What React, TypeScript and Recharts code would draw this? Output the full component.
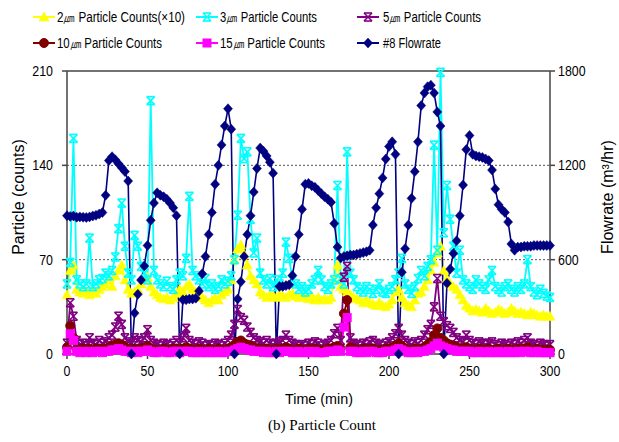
import React from 'react';
import { ComposedChart, Line, XAxis, YAxis, ReferenceLine } from 'recharts';

// sampling interval of the logged data (minutes)
const SAMPLE_INTERVAL_MIN = 2;

// #8 Flowrate (m3/hr), every 2 min from 0 to 300
const flowrate = [
  880, 875, 878, 870, 872, 870, 868, 872, 878, 882,
  890, 900, 1010, 1230, 1255, 1235, 1210, 1185, 1160, 1100,
  0, 260, 380, 470, 560, 690, 850, 960, 1025, 1010,
  1000, 985, 960, 930, 880, 0, 345, 345, 350, 350,
  355, 400, 510, 620, 760, 900, 1080, 1200, 1330, 1450,
  1560, 1430, 0, 350, 460, 620, 760, 880, 1030, 1180,
  1310, 1290, 1260, 1220, 1150, 0, 430, 430, 435, 440,
  500, 620, 760, 920, 1080, 1085, 1070, 1060, 1040, 1020,
  1000, 985, 965, 830, 680, 610, 620, 625, 630, 630,
  635, 640, 645, 650, 660, 820, 930, 1020, 1120, 1240,
  1320, 1350, 1270, 0, 520, 670, 820, 990, 1160, 1350,
  1580, 1660, 1700, 1710, 1660, 1540, 1450, 0, 450, 540,
  640, 720, 880, 1075, 1300, 1390, 1270, 1260, 1255, 1250,
  1240, 1230, 1170, 1050, 950, 920, 900, 840, 700, 660,
  680, 680, 685, 685, 685, 690, 690, 690, 690, 690,
  690,
];

// 2um particle counts (x10)
const p2um = [
  44, 62, 66, 48, 46, 45, 47, 44, 46, 45,
  48, 50, 52, 55, 50, 58, 62, 66, 55, 48,
  45, 46, 48, 52, 55, 57, 50, 46, 44, 42,
  41, 42, 40, 42, 45, 48, 46, 50, 52, 48,
  46, 44, 42, 40, 38, 40, 42, 40, 44, 46,
  48, 55, 70, 78, 81, 74, 66, 58, 55, 52,
  46, 44, 42, 44, 43, 42, 44, 43, 42, 44,
  45, 43, 42, 44, 42, 41, 43, 40, 42, 40,
  41, 40, 42, 55, 66, 50, 48, 46, 44, 42,
  41, 40, 38, 40, 38, 37, 36, 38, 36, 35,
  37, 40, 46, 48, 42, 38, 36, 35, 40, 45,
  46, 50, 55, 62, 68, 75, 80, 62, 56, 52,
  50, 48, 44, 40, 36, 34, 32, 33, 32, 31,
  34, 32, 30, 31, 33, 32, 30, 31, 34, 32,
  30, 31, 30, 29, 31, 30, 29, 28, 29, 28,
  28,
];

// 3um particle counts
const p3um = [
  52, 68, 160, 55, 52, 50, 52, 86, 50, 52,
  55, 56, 60, 58, 62, 72, 93, 112, 80, 60,
  55, 88, 80, 65, 60, 55, 188, 62, 55, 52,
  50, 54, 50, 48, 55, 60, 58, 71, 117, 62,
  58, 55, 52, 56, 50, 52, 48, 50, 55, 52,
  54, 58, 70, 103, 160, 145, 150, 100, 75, 86,
  60, 55, 52, 56, 50, 55, 52, 60, 83, 71,
  55, 52, 48, 50, 46, 48, 52, 55, 62, 55,
  50, 48, 52, 55, 125, 56, 52, 150, 60, 55,
  50, 48, 46, 50, 48, 45, 48, 52, 46, 45,
  48, 50, 55, 60, 71, 52, 48, 45, 50, 56,
  62, 58, 65, 70, 155, 77, 209, 90, 125, 100,
  80, 60, 77, 55, 52, 50, 48, 55, 52, 50,
  48, 55, 62, 50, 48, 46, 50, 52, 48, 46,
  50, 48, 52, 70, 50, 46, 44, 48, 45, 43,
  42,
];

// 5um particle counts
const p5um = [
  8, 38, 28, 10, 7, 8, 6, 12, 8, 7,
  10, 8, 9, 12, 14, 20, 28, 22, 12, 9,
  8, 12, 10, 9, 12, 18, 10, 8, 7, 6,
  8, 7, 6, 8, 10, 8, 12, 19, 10, 8,
  7, 9, 8, 6, 7, 6, 8, 7, 6, 8,
  10, 14, 22, 33, 27, 25, 20, 16, 12, 10,
  9, 8, 10, 8, 7, 8, 9, 10, 14, 10,
  8, 7, 6, 7, 6, 8, 7, 9, 8, 6,
  7, 8, 10, 15, 19, 10, 57, 65, 12, 8,
  7, 6, 8, 7, 9, 10, 8, 7, 6, 8,
  9, 12, 15, 19, 14, 10, 8, 7, 9, 8,
  10, 14, 18, 22, 35, 56, 28, 24, 21, 19,
  16, 12, 10, 9, 14, 10, 8, 7, 9, 8,
  7, 8, 9, 7, 6, 8, 7, 6, 8, 7,
  9, 8, 10, 12, 8, 7, 6, 8, 7, 6,
  7,
];

// 10um particle counts
const p10um = [
  5, 21, 12, 4, 3, 4, 3, 4, 3, 4,
  4, 3, 4, 5, 6, 7, 8, 7, 5, 4,
  3, 4, 3, 4, 5, 6, 4, 3, 3, 3,
  4, 3, 3, 4, 4, 3, 4, 5, 4, 3,
  3, 4, 3, 3, 4, 3, 3, 4, 3, 3,
  4, 5, 7, 9, 10, 8, 7, 6, 5, 4,
  4, 3, 4, 3, 3, 4, 3, 4, 5, 4,
  3, 3, 4, 3, 3, 4, 3, 4, 3, 3,
  3, 4, 4, 5, 6, 4, 30, 40, 5, 4,
  3, 3, 4, 3, 4, 4, 3, 3, 3, 4,
  4, 5, 6, 8, 6, 4, 3, 3, 4, 3,
  4, 5, 7, 9, 14, 19, 12, 10, 8, 7,
  6, 5, 4, 4, 5, 4, 3, 3, 4, 3,
  3, 4, 3, 3, 4, 3, 3, 4, 3, 3,
  4, 3, 4, 5, 3, 3, 4, 3, 3, 3,
  3,
];

// 15um particle counts
const p15um = [
  2, 15, 10, 2, 1, 2, 1, 2, 1, 2,
  2, 1, 2, 2, 3, 3, 4, 3, 2, 2,
  1, 2, 1, 2, 2, 3, 2, 1, 1, 2,
  2, 1, 1, 2, 2, 1, 2, 2, 2, 1,
  1, 2, 1, 1, 2, 1, 1, 2, 1, 1,
  2, 2, 3, 4, 5, 4, 3, 3, 2, 2,
  2, 1, 2, 1, 1, 2, 1, 2, 2, 2,
  1, 1, 2, 1, 1, 2, 1, 2, 1, 1,
  1, 2, 2, 2, 3, 2, 20, 27, 2, 2,
  1, 1, 2, 1, 2, 2, 1, 1, 1, 2,
  2, 2, 3, 4, 3, 2, 1, 1, 2, 1,
  2, 2, 3, 4, 6, 8, 6, 5, 4, 3,
  3, 2, 2, 2, 2, 2, 1, 1, 2, 1,
  1, 2, 1, 1, 2, 1, 1, 2, 1, 1,
  2, 1, 2, 2, 1, 1, 2, 1, 1, 1,
  1,
];

const timeTicks = [0, 50, 100, 150, 200, 250, 300];
const particleTicks = [0, 70, 140, 210];
const flowTicks = [0, 600, 1200, 1800];
const gridValues = [70, 140];

const seriesNames = [
  '2㎛ Particle Counts(×10)',
  '3㎛ Particle Counts',
  '5㎛ Particle Counts',
  '10㎛ Particle Counts',
  '15㎛ Particle Counts',
  '#8 Flowrate',
];
const seriesKeys = ['p2', 'p3', 'p5', 'p10', 'p15', 'flow'];
const seriesColors = ['#FFFF00', '#00FFFF', '#800080', '#800000', '#FF00FF', '#000080'];
const seriesMarkers = ['triangle', 'star', 'star', 'circle', 'square', 'diamond'];
const seriesAxes = ['left', 'left', 'left', 'left', 'left', 'right'];
const seriesWidths = [1.8, 1.8, 1.8, 1.8, 1.8, 1.6];

const data = flowrate.map((f, i) => ({
  t: i * SAMPLE_INTERVAL_MIN,
  flow: f,
  p2: p2um[i],
  p3: p3um[i],
  p5: p5um[i],
  p10: p10um[i],
  p15: p15um[i],
}));

const FONT = "'Liberation Sans', Arial, sans-serif";

function Marker({ kind, cx, cy, color }: { kind: string; cx: number; cy: number; color: string }) {
  if (kind === 'triangle') {
    return <polygon points={`${cx},${cy - 5} ${cx + 5},${cy + 4} ${cx - 5},${cy + 4}`} fill={color} stroke={color} strokeWidth={0.5} />;
  }
  if (kind === 'star') {
    const s = 4;
    return (
      <g stroke={color} strokeWidth={1.6} fill="none">
        <line x1={cx - s} y1={cy - s} x2={cx + s} y2={cy + s} />
        <line x1={cx + s} y1={cy - s} x2={cx - s} y2={cy + s} />
        <line x1={cx - s} y1={cy - s} x2={cx + s} y2={cy - s} />
        <line x1={cx - s} y1={cy + s} x2={cx + s} y2={cy + s} />
      </g>
    );
  }
  if (kind === 'circle') {
    return <circle cx={cx} cy={cy} r={4.5} fill={color} stroke={color} />;
  }
  if (kind === 'square') {
    return <rect x={cx - 4} y={cy - 4} width={8} height={8} fill={color} stroke={color} />;
  }
  return <polygon points={`${cx},${cy - 5} ${cx + 4.5},${cy} ${cx},${cy + 5} ${cx - 4.5},${cy}`} fill={color} stroke={color} strokeWidth={0.5} />;
}

const makeDot = (kind: string, color: string) => (props: any) => {
  const { cx, cy, index } = props;
  if (cx == null || cy == null) return <g key={`e-${index}`} />;
  return (
    <g key={`d-${kind}-${index}`}>
      <Marker kind={kind} cx={cx} cy={cy} color={color} />
    </g>
  );
};

const NumTick = (props: any) => {
  const { x, y, payload, textAnchor, vertical } = props;
  const s = String(payload.value);
  return (
    <text
      x={x}
      y={y}
      dy={vertical ? '0.35em' : '0.71em'}
      textAnchor={textAnchor}
      fontSize={14}
      fontFamily={FONT}
      fill="#000"
      textLength={s.length * 6.9}
      lengthAdjust="spacingAndGlyphs"
    >
      {s}
    </text>
  );
};

// legend layout
const legendLineX = [33, 196, 357];
const legendTextX = [57, 220, 383];
const legendRowY = [17, 43];
const legendTextLen = [128, 97, 98, 105, 105, 58];

export default function App() {
  const axisColor = '#444';
  return (
    <div style={{ position: 'absolute', left: 0, top: 0, width: 619, height: 442, background: '#fff' }}>
      <ComposedChart
        width={619}
        height={442}
        data={data}
        margin={{ top: 71, right: 20, bottom: 58, left: 17 }}
        style={{ position: 'absolute', left: 0, top: 0 }}
      >
        <XAxis
          dataKey="t"
          type="number"
          domain={[0, 300]}
          ticks={timeTicks}
          height={30}
          tickSize={5}
          tickMargin={7}
          stroke={axisColor}
          strokeWidth={1.5}
          tick={<NumTick />}
          interval={0}
        />
        <YAxis
          yAxisId="left"
          orientation="left"
          domain={[0, 210]}
          ticks={particleTicks}
          width={50}
          tickSize={5}
          tickMargin={9}
          stroke={axisColor}
          strokeWidth={1.5}
          tick={<NumTick vertical />}
          interval={0}
        />
        <YAxis
          yAxisId="right"
          orientation="right"
          domain={[0, 1800]}
          ticks={flowTicks}
          width={49}
          tickSize={5}
          tickMargin={3}
          stroke={axisColor}
          strokeWidth={1.5}
          tick={<NumTick vertical />}
          interval={0}
        />
        {gridValues.map((v) => (
          <ReferenceLine key={`g${v}`} yAxisId="left" y={v} stroke="#555" strokeDasharray="2 2" strokeWidth={1} />
        ))}
        <ReferenceLine yAxisId="left" y={210} stroke={axisColor} strokeWidth={1.5} />
        {seriesKeys.map((k, i) => (
          <Line
            key={k}
            type="linear"
            dataKey={k}
            yAxisId={seriesAxes[i]}
            stroke={seriesColors[i]}
            strokeWidth={seriesWidths[i]}
            dot={makeDot(seriesMarkers[i], seriesColors[i])}
            activeDot={false}
            isAnimationActive={false}
            name={seriesNames[i]}
          />
        ))}
      </ComposedChart>
      <svg width={619} height={442} style={{ position: 'absolute', left: 0, top: 0, pointerEvents: 'none' }}>
        {seriesNames.map((name, i) => {
          const col = i % 3;
          const row = Math.floor(i / 3);
          const y = legendRowY[row];
          const x1 = legendLineX[col];
          const x2 = x1 + 22;
          return (
            <g key={name}>
              <line x1={x1} y1={y} x2={x2} y2={y} stroke={seriesColors[i]} strokeWidth={2} />
              <Marker kind={seriesMarkers[i]} cx={(x1 + x2) / 2} cy={y} color={seriesColors[i]} />
              <text
                x={legendTextX[col]}
                y={y + 5}
                fontSize={14}
                fontFamily={FONT}
                fill="#000"
                textLength={legendTextLen[i]}
                lengthAdjust="spacingAndGlyphs"
              >
                {name}
              </text>
            </g>
          );
        })}
        <text
          transform="translate(24,197) rotate(-90)"
          textAnchor="middle"
          fontSize={16}
          fontFamily={FONT}
          fill="#000"
        >
          Particle (counts)
        </text>
        <text
          transform="translate(613,197) rotate(-90)"
          textAnchor="middle"
          fontSize={16}
          fontFamily={FONT}
          fill="#000"
        >
          Flowrate (m³/hr)
        </text>
        <text
          x={319}
          y={404}
          textAnchor="middle"
          fontSize={15}
          fontFamily={FONT}
          fill="#000"
          textLength={68}
          lengthAdjust="spacingAndGlyphs"
        >
          Time (min)
        </text>
        <text
          x={322}
          y={430}
          textAnchor="middle"
          fontSize={14}
          fontFamily="'Liberation Serif', 'Times New Roman', serif"
          fill="#000"
          textLength={108}
          lengthAdjust="spacingAndGlyphs"
        >
          (b) Particle Count
        </text>
      </svg>
    </div>
  );
}
